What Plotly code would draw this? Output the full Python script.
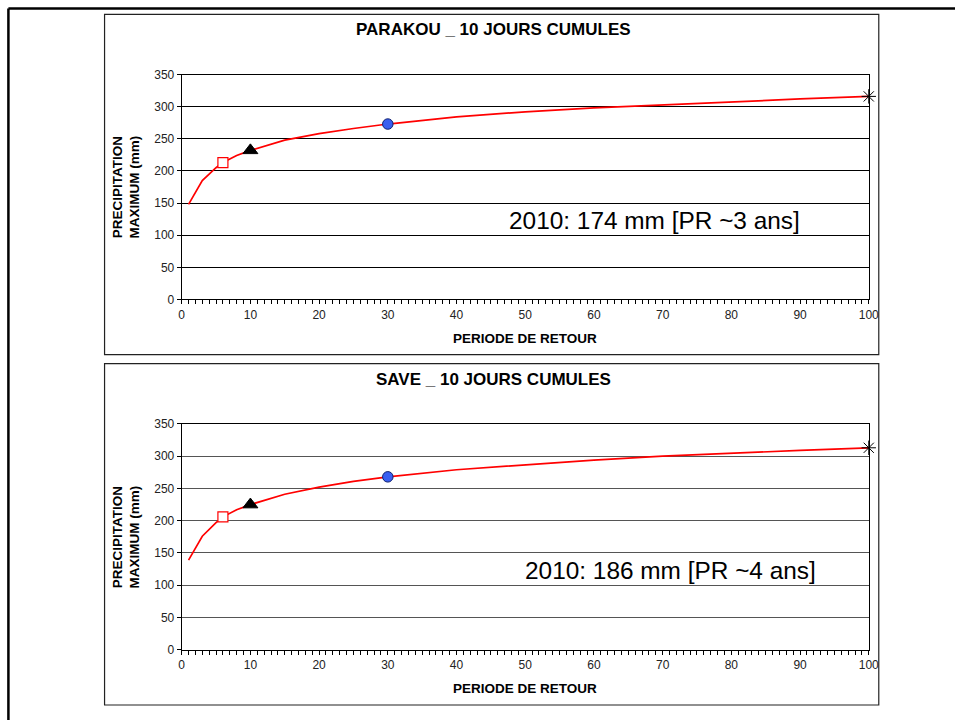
import plotly.graph_objects as go

# ---------------- data ----------------
RETURN_PERIOD = [1, 2, 3, 5, 6, 8, 10, 15, 20, 25, 30, 40, 50, 60, 70, 80, 90, 100]
PARAKOU_PRECIP = [148, 166, 185, 205, 213, 224, 232, 248, 258, 266, 273, 284, 292, 298, 303, 308, 312, 316]
SAVE_PRECIP = [139, 157, 176, 197, 206, 217, 225, 241, 252, 261, 268, 279, 287, 294, 300, 305, 309, 313]

MARKER_T = [6, 10, 30, 100]
PARAKOU_MARKERS = [213, 232, 273, 316]
SAVE_MARKERS = [206, 225, 268, 313]

TITLES = ["PARAKOU _ 10 JOURS CUMULES", "SAVE _ 10 JOURS CUMULES"]
NOTES = ["2010: 174 mm [PR ~3 ans]", "2010: 186 mm [PR ~4 ans]"]
Y_TITLE = "PRECIPITATION<br>MAXIMUM (mm)"
X_TITLE = "PERIODE DE RETOUR"
Y_TICKS = [0, 50, 100, 150, 200, 250, 300, 350]
X_TICKS = [0, 10, 20, 30, 40, 50, 60, 70, 80, 90, 100]

# ---------------- layout helpers (screen pixels -> paper) ----------------
# empirical mapping of figure pixels to the photographed picture
A_X, B_X = 0.985, 2.6
A_Y, B_Y = 0.977, 7.7
W = int(round((955 - B_X) / A_X))
H = int(round((720 - B_Y) / A_Y))


def px(x):
    return ((x - B_X) / A_X) / W


def py(y):
    return 1 - ((y - B_Y) / A_Y) / H


FONT = "Arial, Liberation Sans, sans-serif"

fig = go.Figure()

marker_styles = [
    dict(symbol="square", size=10, color="white", line=dict(color="#ff0000", width=1.2)),
    dict(symbol="triangle-up", size=13, color="black", line=dict(color="black", width=1)),
    dict(symbol="circle", size=10.5, color="#3a5ff0", line=dict(color="#102070", width=1)),
    dict(symbol="asterisk-open", size=12, color="black", line=dict(color="black", width=1)),
]

panels = [
    dict(vals=PARAKOU_PRECIP, marks=PARAKOU_MARKERS, box=(104, 15, 877, 354),
         plot=(181, 75, 867, 299), grid="#000000", title_y=30, xt_y=338, note_x=68.8),
    dict(vals=SAVE_PRECIP, marks=SAVE_MARKERS, box=(104, 363, 877, 703),
         plot=(181, 423, 867, 648), grid="#555555", title_y=379, xt_y=687, note_x=71.1),
]

shapes = []
annotations = []
for i, p in enumerate(panels):
    xa = "x" if i == 0 else "x2"
    ya = "y" if i == 0 else "y2"
    fig.add_trace(go.Scatter(x=RETURN_PERIOD, y=p["vals"], mode="lines",
                             line=dict(color="#ff0000", width=1.7),
                             xaxis=xa, yaxis=ya, showlegend=False, hoverinfo="skip"))
    for k in range(len(MARKER_T)):
        fig.add_trace(go.Scatter(x=[MARKER_T[k]], y=[p["marks"][k]], mode="markers",
                                 marker=marker_styles[k], cliponaxis=False,
                                 xaxis=xa, yaxis=ya, showlegend=False))
    x0, y0, x1, y1 = p["plot"]
    axis_common = dict(showline=True, linecolor="#000000", linewidth=1, mirror=True,
                       tickfont=dict(family=FONT, size=12, color="#222222"),
                       ticks="outside", tickcolor="#000000", zeroline=False)
    fig.layout["xaxis" if i == 0 else "xaxis2"] = dict(
        domain=[px(x0), px(x1)], range=[0, 100], anchor=ya,
        tickvals=X_TICKS, ticklen=4, showgrid=False,
        minor=dict(dtick=1, ticks="outside", ticklen=4, tickcolor="#000000", showgrid=False),
        **axis_common)
    fig.layout["yaxis" if i == 0 else "yaxis2"] = dict(
        domain=[py(y1), py(y0)], range=[0, 350], anchor=xa,
        tickvals=Y_TICKS, ticklen=4, showgrid=True, gridcolor=p["grid"], gridwidth=1,
        **axis_common)
    bx0, by0, bx1, by1 = p["box"]
    shapes.append(dict(type="rect", xref="paper", yref="paper",
                       x0=px(bx0), x1=px(bx1), y0=py(by1), y1=py(by0),
                       line=dict(color="#222222", width=1.2), layer="below"))
    annotations.append(dict(text="<b>%s</b>" % TITLES[i], xref="paper", yref="paper",
                            x=px(492), y=py(p["title_y"]), xanchor="center", yanchor="middle",
                            showarrow=False, font=dict(family=FONT, size=17, color="#000000")))
    annotations.append(dict(text="<b>%s</b>" % X_TITLE, xref="paper", yref="paper",
                            x=px((x0 + x1) / 2), y=py(p["xt_y"]), xanchor="center", yanchor="middle",
                            showarrow=False, font=dict(family=FONT, size=13.5, color="#000000")))
    annotations.append(dict(text="<b>%s</b>" % Y_TITLE, xref="paper", yref="paper",
                            x=px(126), y=py((y0 + y1) / 2), xanchor="center", yanchor="middle",
                            textangle=-90, showarrow=False,
                            font=dict(family=FONT, size=13.5, color="#000000")))
    annotations.append(dict(text=NOTES[i], xref=xa, yref=ya,
                            x=p["note_x"], y=123, xanchor="center", yanchor="middle",
                            showarrow=False, font=dict(family=FONT, size=24.4, color="#000000")))

# outer frame (top and left lines)
top_y = 1 - 1.6 / H
shapes.append(dict(type="line", xref="paper", yref="paper", x0=px(8), x1=1.0,
                   y0=top_y, y1=top_y, line=dict(color="#000000", width=2.5)))
shapes.append(dict(type="line", xref="paper", yref="paper", x0=px(8), x1=px(8),
                   y0=top_y, y1=0.0, line=dict(color="#000000", width=2.5)))

fig.update_layout(width=W, height=H, margin=dict(l=0, r=0, t=0, b=0),
                  paper_bgcolor="white", plot_bgcolor="white",
                  shapes=shapes, annotations=annotations, showlegend=False)

fig.write_html("out.html", config={"displayModeBar": False},
               post_script="document.body.style.margin='0px';document.body.style.overflow='hidden';")
